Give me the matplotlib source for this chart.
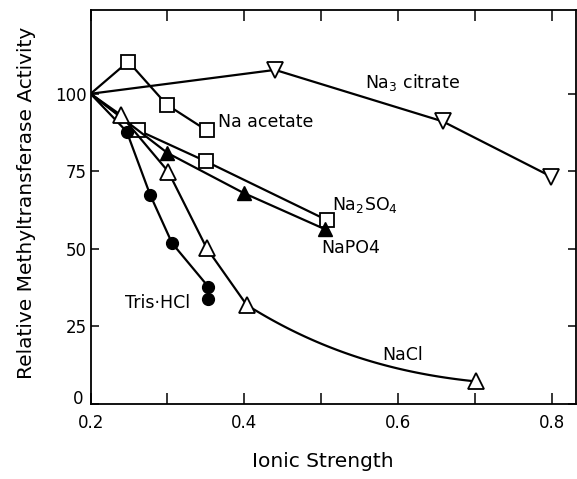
import matplotlib

matplotlib.use("Agg")
import matplotlib.pyplot as plt
import matplotlib.transforms as mtransforms
import numpy as np
from matplotlib.ticker import FixedLocator

# values (ionic strength, relative activity %)
acetate_x = [0.20, 0.249, 0.299, 0.351]
acetate_y = [100, 110.4, 96.5, 88.2]

citrate_x = [0.20, 0.440, 0.658, 0.799]
citrate_y = [100, 107.7, 91.1, 73.3]

nacl_x = [0.20, 0.239, 0.301, 0.351, 0.403, 0.702]
nacl_y = [100, 93.2, 74.9, 50.2, 31.9, 7.2]

tris_x = [0.20, 0.247, 0.2775, 0.306, 0.353, 0.353]
tris_y = [100, 87.8, 67.4, 51.8, 37.8, 33.8]

so4_x = [0.20, 0.262, 0.350, 0.507]
so4_y = [100, 88.2, 78.2, 59.3]

po4_x = [0.20, 0.300, 0.399, 0.505]
po4_y = [100, 80.9, 68.0, 56.3]

x_major = [0.2, 0.4, 0.6, 0.8]
x_minor = [0.3, 0.5, 0.7]
y_ticks = [0, 25, 50, 75, 100]

INK = "black"
LW = 1.6


def hermite_tail(x, y, n=80):
    """Hand-drawn look of the last NaCl segment: cubic Hermite between the last two
    measured points (pchip-style slope at the inner point, nearly flat at the end)."""
    x0, x1, x2 = x[-3:]
    y0, y1, y2 = y[-3:]
    h0, h1 = x1 - x0, x2 - x1
    d0, d1 = (y1 - y0) / h0, (y2 - y1) / h1
    w1, w2 = 2 * h1 + h0, h1 + 2 * h0
    m1 = (w1 + w2) / (w1 / d0 + w2 / d1)
    m2 = 0.3 * d1
    t = np.linspace(0, 1, n)
    h00 = 2 * t**3 - 3 * t**2 + 1
    h10 = t**3 - 2 * t**2 + t
    h01 = -2 * t**3 + 3 * t**2
    h11 = t**3 - t**2
    return x1 + t * h1, h00 * y1 + h10 * h1 * m1 + h01 * y2 + h11 * h1 * m2


fig = plt.figure(figsize=(5.77, 4.79), dpi=100)
ax = fig.add_axes([0.157, 0.157, 0.842, 0.822])

open_mk = dict(markerfacecolor="white", markeredgecolor=INK, markeredgewidth=1.3)

ax.plot(acetate_x, acetate_y, color=INK, lw=LW, marker="s", ms=10, markevery=list(range(1, 4)), **open_mk)
ax.plot(citrate_x, citrate_y, color=INK, lw=LW, marker="v", ms=11, markevery=list(range(1, 4)), **open_mk)
ax.plot(so4_x, so4_y, color=INK, lw=LW, marker="s", ms=10, markevery=list(range(1, 4)), **open_mk)
ax.plot(po4_x, po4_y, color=INK, lw=LW, marker="^", ms=10, markevery=list(range(1, 4)),
        markerfacecolor=INK, markeredgecolor=INK)
ax.plot(tris_x, tris_y, color=INK, lw=LW, marker="o", ms=8.5, markevery=list(range(1, 6)),
        markerfacecolor=INK, markeredgecolor=INK)

# NaCl: straight segments, then the curved tail
tx, ty = hermite_tail(nacl_x, nacl_y)
ax.plot(np.r_[nacl_x[:-1], tx], np.r_[nacl_y[:-1], ty], color=INK, lw=LW)
ax.plot(nacl_x[1:], nacl_y[1:], ls="none", marker="^", ms=11, **open_mk)

fs = 12.5
ax.text(0.366, 91.0, "Na acetate", fontsize=fs, va="center", ha="left")
ax.text(0.557, 103.5, "Na$_3$ citrate", fontsize=fs, va="center", ha="left")
ax.text(0.5135, 64.2, "Na$_2$SO$_4$", fontsize=fs, va="center", ha="left")
ax.text(0.5005, 50.2, "NaPO4", fontsize=fs, va="center", ha="left")
ax.text(0.245, 32.5, "Tris·HCl", fontsize=fs, va="center", ha="left")
ax.text(0.580, 15.8, "NaCl", fontsize=fs, va="center", ha="left")

ax.set_xlim(0.2, 0.832)
ax.set_ylim(0, 127)
ax.xaxis.set_major_locator(FixedLocator(x_major))
ax.xaxis.set_minor_locator(FixedLocator(x_minor))
ax.set_xticklabels([f"{v:.1f}" for v in x_major])
ax.set_yticks(y_ticks)
ax.set_yticklabels([str(v) for v in y_ticks])
ax.tick_params(which="both", direction="in", top=True, right=True, length=8, width=1.1,
               labelsize=12)
ax.tick_params(axis="x", which="both", pad=7)
ax.tick_params(axis="y", length=6, pad=3)
for sp in ax.spines.values():
    sp.set_linewidth(1.3)

# the y "0" sits a little above the corner, as in the original
zero_lbl = ax.get_yticklabels()[0]
zero_lbl.set_transform(zero_lbl.get_transform()
                       + mtransforms.ScaledTranslation(-2 / 72, 5 / 72, fig.dpi_scale_trans))

ax.set_xlabel("Ionic Strength", fontsize=14.5)
ax.xaxis.set_label_coords(0.478, -0.122)
ax.set_ylabel("Relative Methyltransferase Activity", fontsize=14.5)
ax.yaxis.set_label_coords(-0.112, 0.51)

fig.savefig("out.png", dpi=100, facecolor="white")
